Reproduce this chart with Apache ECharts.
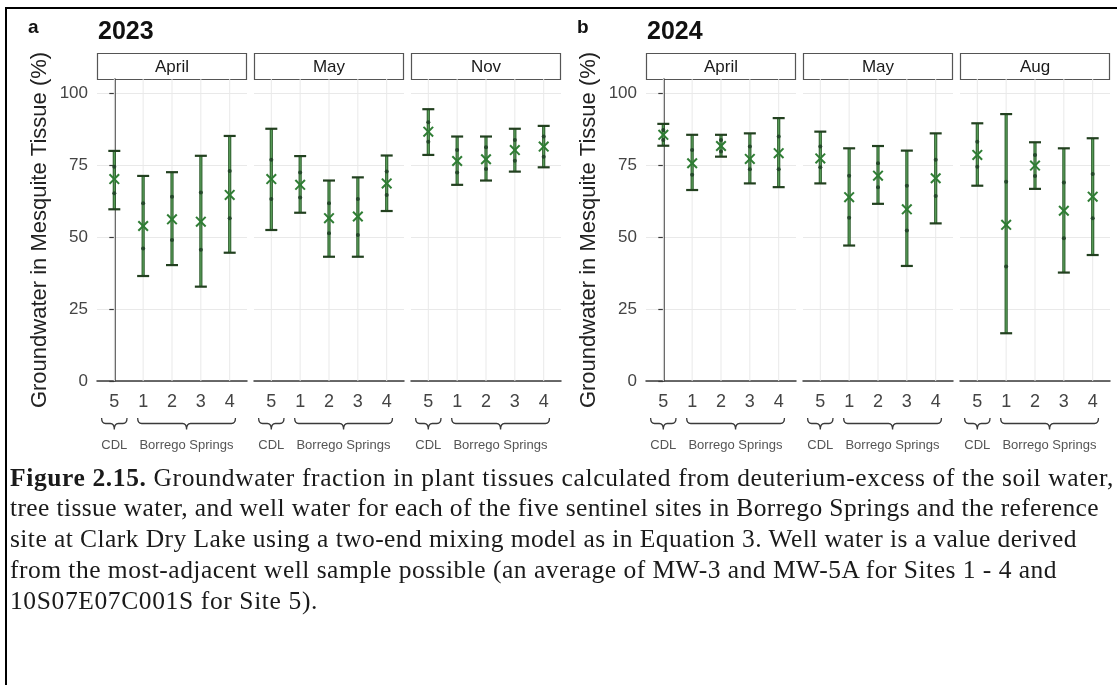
<!DOCTYPE html>
<html>
<head>
<meta charset="utf-8">
<script src="https://cdn.jsdelivr.net/npm/echarts@6/dist/echarts.min.js"></script>
<style>
  html, body { margin: 0; padding: 0; background: #ffffff; }
  #chart { position: absolute; left: 0; top: 0; width: 1117px; height: 685px; }
  #cap { position: absolute; left: 10px; top: 462.5px; font-family: 'Liberation Serif', 'Times New Roman', serif;
         font-size: 25.5px; line-height: 30.8px; color: #1a1a1a; white-space: nowrap; }
</style>
</head>
<body>
<div id="chart"></div>
<div id="cap">
  <div><span class="ln"><b>Figure 2.15.</b> Groundwater fraction in plant tissues calculated from deuterium-excess of the soil water,</span></div>
  <div><span class="ln">tree tissue water, and well water for each of the five sentinel sites in Borrego Springs and the reference</span></div>
  <div><span class="ln">site at Clark Dry Lake using a two-end mixing model as in Equation 3. Well water is a value derived</span></div>
  <div><span class="ln">from the most-adjacent well sample possible (an average of MW-3 and MW-5A for Sites 1 - 4 and</span></div>
  <div><span class="ln">10S07E07C001S for Site 5).</span></div>
</div>
<script>
// ---------------- data ----------------
const sites = ['5', '1', '2', '3', '4'];
const months2023 = ['April', 'May', 'Nov'];
const months2024 = ['April', 'May', 'Aug'];
const yTicks = [0, 25, 50, 75, 100];
const groupLabels = ['CDL', 'Borrego Springs'];
const yearLabels = ['2023', '2024'];
const figLetters = ['a', 'b'];
const yTitle = 'Groundwater in Mesquite Tissue (%)';

// 2023 April
const mean23Apr = [70.2, 53.9, 56.2, 55.4, 64.7];
const lo23Apr   = [59.7, 36.5, 40.3, 32.8, 44.6];
const hi23Apr   = [80.0, 71.3, 72.6, 78.3, 85.2];
const dLo23Apr  = [65.3, 46.1, 49.0, 45.6, 56.6];
const dHi23Apr  = [74.5, 61.8, 64.1, 65.5, 73.0];
// 2023 May
const mean23May = [70.2, 68.2, 56.6, 57.2, 68.7];
const lo23May   = [52.5, 58.5, 43.2, 43.2, 59.1];
const hi23May   = [87.7, 78.2, 69.7, 70.8, 78.4];
const dLo23May  = [63.3, 63.8, 51.4, 50.8, 64.7];
const dHi23May  = [76.9, 72.5, 61.8, 63.3, 72.8];
// 2023 Nov
const mean23Nov = [86.7, 76.5, 77.1, 80.3, 81.5];
const lo23Nov   = [78.6, 68.2, 69.7, 72.8, 74.3];
const hi23Nov   = [94.5, 85.0, 85.0, 87.7, 88.7];
const dLo23Nov  = [83.2, 72.5, 73.7, 76.6, 78.0];
const dHi23Nov  = [90.0, 80.3, 81.3, 83.8, 85.0];
// 2024 April
const mean24Apr = [85.6, 75.7, 81.7, 77.2, 79.2];
const lo24Apr   = [81.8, 66.4, 78.0, 68.7, 67.4];
const hi24Apr   = [89.4, 85.6, 85.6, 86.1, 91.4];
const dLo24Apr  = [83.8, 71.7, 79.8, 73.6, 73.6];
const dHi24Apr  = [87.3, 80.3, 83.8, 81.5, 85.0];
// 2024 May
const mean24May = [77.4, 63.9, 71.4, 59.7, 70.5];
const lo24May   = [68.7, 47.1, 61.6, 40.0, 54.8];
const hi24May   = [86.7, 80.9, 81.7, 80.1, 86.1];
const dLo24May  = [74.3, 56.8, 67.4, 52.3, 64.3];
const dHi24May  = [81.5, 71.4, 75.7, 67.9, 76.9];
// 2024 Aug
const mean24Aug = [78.6, 54.3, 74.9, 59.2, 64.1];
const lo24Aug   = [67.9, 16.6, 66.8, 37.7, 43.8];
const hi24Aug   = [89.6, 92.8, 83.0, 80.9, 84.4];
const dLo24Aug  = [74.5, 39.8, 71.3, 49.6, 56.6];
const dHi24Aug  = [83.2, 69.3, 78.6, 69.0, 72.0];

// ---------------- layout ----------------
const panels = [
  { month: months2023[0], mean: mean23Apr, lo: lo23Apr, hi: hi23Apr, dLo: dLo23Apr, dHi: dHi23Apr },
  { month: months2023[1], mean: mean23May, lo: lo23May, hi: hi23May, dLo: dLo23May, dHi: dHi23May },
  { month: months2023[2], mean: mean23Nov, lo: lo23Nov, hi: hi23Nov, dLo: dLo23Nov, dHi: dHi23Nov },
  { month: months2024[0], mean: mean24Apr, lo: lo24Apr, hi: hi24Apr, dLo: dLo24Apr, dHi: dHi24Apr },
  { month: months2024[1], mean: mean24May, lo: lo24May, hi: hi24May, dLo: dLo24May, dHi: dHi24May },
  { month: months2024[2], mean: mean24Aug, lo: lo24Aug, hi: hi24Aug, dLo: dLo24Aug, dHi: dHi24Aug }
];
const panelLefts = [97, 254, 411, 646, 803, 960];
const panelWidth = 150;
const panelTop = 79;
const panelHeight = 302;
const stripTop = 53;
const stripH = 26;
const Y_MAX = 105;
const FONT = "'Liberation Sans', Arial, sans-serif";
// brace spans in axis units: [from, to, label position, label]
const braceDefs = [[-0.44, 0.44, 0, groupLabels[0]], [0.81, 4.2, 2.5, groupLabels[1]]];
// caption line right edges (page px)
const captionLineEnds = [1114, 1099, 1077, 1057, 318];

const chart = echarts.init(document.getElementById('chart'), null, { renderer: 'canvas' });

function renderErr(params, api) {
  const x = api.value(0);
  const pm = api.coord([x, api.value(1)]);
  const pl = api.coord([x, api.value(2)]);
  const ph = api.coord([x, api.value(3)]);
  const pdl = api.coord([x, api.value(4)]);
  const pdh = api.coord([x, api.value(5)]);
  const cx = pm[0], hw = 6, m = 4.8;
  return {
    type: 'group',
    children: [
      { type: 'line', shape: { x1: cx, y1: pl[1], x2: cx, y2: ph[1] }, style: { stroke: '#2e5e2e', lineWidth: 3.2 } },
      { type: 'line', shape: { x1: cx, y1: pl[1], x2: cx, y2: ph[1] }, style: { stroke: '#5a9f5a', lineWidth: 1.2 } },
      { type: 'line', shape: { x1: cx - hw, y1: ph[1], x2: cx + hw, y2: ph[1] }, style: { stroke: '#22401f', lineWidth: 2.2 } },
      { type: 'line', shape: { x1: cx - hw, y1: pl[1], x2: cx + hw, y2: pl[1] }, style: { stroke: '#22401f', lineWidth: 2.2 } },
      { type: 'circle', shape: { cx: cx, cy: pdl[1], r: 2 }, style: { fill: '#24482a' } },
      { type: 'circle', shape: { cx: cx, cy: pdh[1], r: 2 }, style: { fill: '#24482a' } },
      { type: 'line', shape: { x1: cx - m, y1: pm[1] - m, x2: cx + m, y2: pm[1] + m }, style: { stroke: '#2f7d34', lineWidth: 2 } },
      { type: 'line', shape: { x1: cx - m, y1: pm[1] + m, x2: cx + m, y2: pm[1] - m }, style: { stroke: '#2f7d34', lineWidth: 2 } }
    ]
  };
}
function renderVGrid(params, api) {
  const x = api.value(0);
  const p0 = api.coord([x, 0]);
  const p1 = api.coord([x, Y_MAX]);
  return { type: 'line', shape: { x1: p0[0], y1: p0[1], x2: p1[0], y2: p1[1] }, style: { stroke: '#e9e9e9', lineWidth: 1 } };
}
function renderBrace(params, api) {
  const a = api.coord([api.value(0), 0]);
  const b = api.coord([api.value(1), 0]);
  const c = api.coord([api.value(2), 0]);
  const x0 = a[0], x1 = b[0], xc = (x0 + x1) / 2;
  const y0 = a[1] + 37, y1 = y0 + 5.5, y2 = y0 + 11.5, r = 4;
  const d = `M${x0},${y0} Q${x0},${y1} ${x0 + r},${y1} L${xc - r},${y1} Q${xc},${y1} ${xc},${y2} ` +
            `Q${xc},${y1} ${xc + r},${y1} L${x1 - r},${y1} Q${x1},${y1} ${x1},${y0}`;
  return {
    type: 'group',
    children: [
      { type: 'path', shape: { pathData: d }, style: { stroke: '#3a3a3a', fill: null, lineWidth: 1.3 } },
      { type: 'text', x: c[0], y: a[1] + 64,
        style: { text: api.value(3), font: '13px ' + FONT, fill: '#555', align: 'center', verticalAlign: 'middle' } }
    ]
  };
}

const grids = [], xAxes = [], yAxes = [], series = [];
panels.forEach((p, g) => {
  const first = (g % 3 === 0);
  grids.push({ left: panelLefts[g], top: panelTop, width: panelWidth, height: panelHeight, containLabel: false, outerBoundsMode: 'none' });
  xAxes.push({
    type: 'value', gridIndex: g, min: -0.6, max: 4.6,
    axisLine: { show: true, onZero: false, lineStyle: { color: '#3a3a3a', width: 1.5 } },
    axisTick: { show: false },
    splitLine: { show: false },
    axisLabel: {
      customValues: [0, 1, 2, 3, 4],
      formatter: v => (Number.isInteger(v) && sites[v] !== undefined) ? sites[v] : '',
      fontSize: 18, color: '#444', margin: 12, fontFamily: FONT
    }
  });
  yAxes.push({
    type: 'value', gridIndex: g, min: 0, max: Y_MAX, interval: 25,
    axisLine: { show: first, lineStyle: { color: '#3a3a3a', width: 1.5 } },
    axisTick: { show: first, length: 5, customValues: yTicks, lineStyle: { color: '#3a3a3a', width: 1.2 } },
    axisLabel: { show: first, customValues: yTicks, fontSize: 17, color: '#444', margin: 9, fontFamily: FONT },
    splitLine: { show: true, lineStyle: { color: '#e9e9e9', width: 1 } }
  });
  series.push({
    type: 'custom', name: 'grid' + g, xAxisIndex: g, yAxisIndex: g, silent: true, z: 1,
    renderItem: renderVGrid, data: sites.map((s, i) => [i])
  });
  series.push({
    type: 'custom', name: p.month, xAxisIndex: g, yAxisIndex: g, z: 5,
    renderItem: renderErr,
    data: sites.map((s, i) => [i, p.mean[i], p.lo[i], p.hi[i], p.dLo[i], p.dHi[i]])
  });
  series.push({
    type: 'custom', name: 'brace' + g, xAxisIndex: g, yAxisIndex: g, silent: true, clip: false, z: 5,
    renderItem: renderBrace,
    dimensions: ['from', 'to', 'mid', { name: 'label', type: 'ordinal' }],
    data: braceDefs
  });
});

// ---------------- annotations ----------------
const gfx = [];
gfx.push({ type: 'line', shape: { x1: 5, y1: 8, x2: 1117, y2: 8 }, style: { stroke: '#000', lineWidth: 2 } });
gfx.push({ type: 'line', shape: { x1: 6, y1: 7, x2: 6, y2: 685 }, style: { stroke: '#000', lineWidth: 2 } });
[0, 1].forEach(f => {
  const left = panelLefts[f * 3];
  gfx.push({ type: 'text', x: left - 69, y: 28, style: { text: figLetters[f], font: 'bold 19px ' + FONT, fill: '#111', textAlign: 'left', textVerticalAlign: 'middle' } });
  gfx.push({ type: 'text', x: left + 1, y: 32, style: { text: yearLabels[f], font: 'bold 25px ' + FONT, fill: '#111', textAlign: 'left', textVerticalAlign: 'middle' } });
  gfx.push({ type: 'text', x: left - 57, y: panelTop + panelHeight / 2, rotation: Math.PI / 2,
    style: { text: yTitle, font: '22px ' + FONT, fill: '#222', textAlign: 'center', textVerticalAlign: 'middle' } });
});
panels.forEach((p, g) => {
  gfx.push({ type: 'rect', shape: { x: panelLefts[g] + 0.5, y: stripTop + 0.5, width: panelWidth - 1, height: stripH },
    style: { fill: '#ffffff', stroke: '#555', lineWidth: 1.2 } });
  gfx.push({ type: 'text', x: panelLefts[g] + panelWidth / 2, y: stripTop + stripH / 2 + 1,
    style: { text: p.month, font: '17px ' + FONT, fill: '#1a1a1a', textAlign: 'center', textVerticalAlign: 'middle' } });
});

chart.setOption({
  animation: false,
  backgroundColor: '#ffffff',
  grid: grids, xAxis: xAxes, yAxis: yAxes, series: series,
  graphic: { elements: gfx }
});

// ---------------- caption fitting (per line) ----------------
document.querySelectorAll('#cap .ln').forEach((el, i) => {
  const r = el.getBoundingClientRect();
  const n = el.textContent.length;
  const ls = (captionLineEnds[i] - r.right) / n;
  el.style.letterSpacing = ls.toFixed(3) + 'px';
});
</script>
</body>
</html>
